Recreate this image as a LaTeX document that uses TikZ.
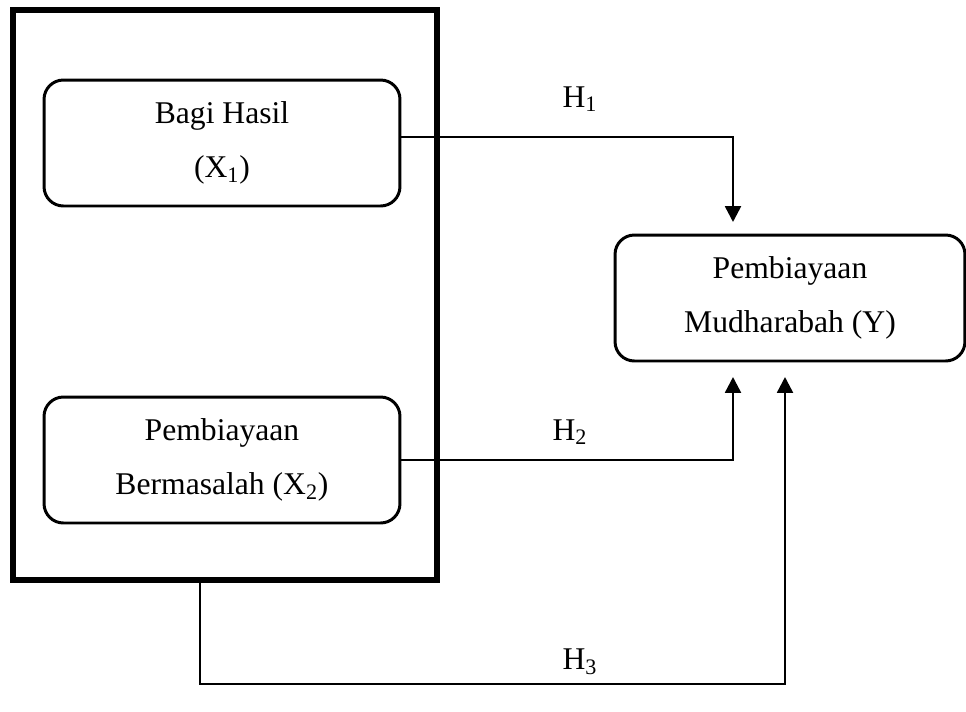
\documentclass[tikz,border=0pt]{standalone}
\usepackage{fontspec}
\setmainfont{Liberation Serif}
\usetikzlibrary{arrows.meta}
\tikzset{
  var/.style={draw, line width=1.7pt, rounded corners=11pt, minimum width=7.12cm,
    minimum height=2.52cm, align=center, font=\fontsize{18}{31}\selectfont,
    execute at begin node={\rule{0pt}{22pt}}},
  link/.style={line width=1.4pt},
  tip/.style={-{Triangle[length=9pt,width=9pt]}},
  hyp/.style={font=\fontsize{18}{22}\selectfont}
}
\begin{document}
\begin{tikzpicture}[x=0.02cm,y=-0.02cm]
\useasboundingbox (0,0) rectangle (966,711);
\node[draw, line width=3.4pt, minimum width=8.48cm, minimum height=11.4cm] (frame) at (225,295) {};
\node[var] (bagi) at (222,143) {Bagi Hasil\\(X\textsubscript{1})};
\node[var] (masalah) at (222,460) {Pembiayaan\\Bermasalah (X\textsubscript{2})};
\node[var, minimum width=7.0cm] (mudh) at (790,298) {Pembiayaan\\Mudharabah (Y)};
\coordinate (h1end) at (733,222);
\coordinate (h2end) at (733,377);
\coordinate (h3start) at (200,580);
\coordinate (h3end) at (785,377);
\draw[link,tip] ([yshift=3.4pt]bagi.east) -| (h1end);
\draw[link,tip] (masalah.east) -| (h2end);
\draw[link,tip] (h3start) -- ++(0,104) -| (h3end);
\node[hyp] (h1) at (580,99) {H\textsubscript{1}};
\node[hyp] (h2) at (570,432) {H\textsubscript{2}};
\node[hyp] (h3) at (580,662) {H\textsubscript{3}};
\end{tikzpicture}
\end{document}
